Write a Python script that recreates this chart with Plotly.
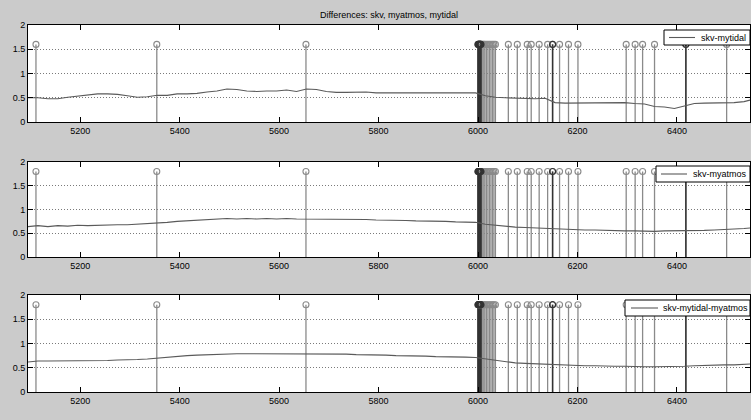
import plotly.graph_objects as go

# ---------------- data ----------------
x_start = 5095
x_step = 20

skv_mytidal = [0.50, 0.50, 0.48, 0.48, 0.51, 0.53, 0.55, 0.58, 0.58, 0.57,
               0.54, 0.51, 0.52, 0.55, 0.55, 0.58, 0.58, 0.59, 0.62, 0.64,
               0.68, 0.67, 0.64, 0.63, 0.64, 0.64, 0.66, 0.63, 0.68, 0.67,
               0.63, 0.61, 0.61, 0.62, 0.62, 0.60, 0.60, 0.61, 0.60, 0.60,
               0.61, 0.60, 0.60, 0.61, 0.60, 0.60, 0.54, 0.51, 0.50, 0.49,
               0.49, 0.48, 0.49, 0.40, 0.39, 0.39, 0.40, 0.39, 0.39, 0.40,
               0.40, 0.38, 0.37, 0.32, 0.31, 0.28, 0.33, 0.38, 0.39, 0.39,
               0.40, 0.40, 0.42, 0.47]

skv_myatmos = [0.64, 0.66, 0.64, 0.66, 0.65, 0.67, 0.66, 0.67, 0.67, 0.68,
               0.68, 0.69, 0.70, 0.72, 0.73, 0.75, 0.76, 0.77, 0.79, 0.80,
               0.81, 0.80, 0.81, 0.80, 0.81, 0.80, 0.81, 0.80, 0.80, 0.80,
               0.79, 0.80, 0.79, 0.79, 0.79, 0.78, 0.78, 0.77, 0.77, 0.76,
               0.76, 0.75, 0.75, 0.74, 0.74, 0.73, 0.69, 0.67, 0.64, 0.63,
               0.62, 0.61, 0.60, 0.59, 0.58, 0.58, 0.57, 0.57, 0.56, 0.56,
               0.55, 0.55, 0.54, 0.54, 0.55, 0.55, 0.55, 0.56, 0.56, 0.57,
               0.58, 0.58, 0.60, 0.62]

skv_mytidal_myatmos = [0.62, 0.64, 0.64, 0.64, 0.64, 0.65, 0.65, 0.65, 0.65, 0.66,
                       0.66, 0.67, 0.68, 0.70, 0.72, 0.74, 0.75, 0.76, 0.77, 0.78,
                       0.78, 0.79, 0.79, 0.79, 0.79, 0.79, 0.79, 0.79, 0.79, 0.79,
                       0.78, 0.78, 0.78, 0.77, 0.77, 0.76, 0.76, 0.75, 0.75, 0.74,
                       0.74, 0.73, 0.73, 0.72, 0.72, 0.71, 0.68, 0.65, 0.62, 0.60,
                       0.59, 0.58, 0.57, 0.56, 0.55, 0.55, 0.54, 0.54, 0.53, 0.53,
                       0.53, 0.52, 0.52, 0.52, 0.52, 0.53, 0.53, 0.54, 0.55, 0.55,
                       0.56, 0.56, 0.57, 0.58]

stem_x = [5111, 5354, 5654,
          6000, 6001, 6002, 6003, 6004, 6005, 6006, 6008, 6010, 6012, 6014,
          6017, 6020, 6023, 6026, 6029, 6032, 6035,
          6061, 6079, 6099, 6107, 6123, 6140, 6150, 6164, 6182, 6201,
          6298, 6316, 6331, 6355, 6418, 6500]
stem_dark_x = [6000, 6001, 6002, 6003, 6004, 6005, 6006, 6150, 6418]
stem_heights = [1.6, 1.8, 1.8]

series = [skv_mytidal, skv_myatmos, skv_mytidal_myatmos]
names = ["skv-mytidal", "skv-myatmos", "skv-mytidal-myatmos"]

x_ticks = [5200, 5400, 5600, 5800, 6000, 6200, 6400]
y_ticks = [0, 0.5, 1, 1.5, 2]
y_ticktext = ["0", "0.5", "1", "1.5", "2"]
title_text = "Differences: skv, myatmos, mytidal"

# ---------------- layout geometry ----------------
W, H = 751, 420
m_l, m_r, m_t, m_b = 28, 1, 25, 28
pw = W - m_l - m_r
ph = H - m_t - m_b
panels_px = [(25, 122), (162, 257), (295, 392)]
domains = [[(H - m_b - b) / ph, (H - m_b - t) / ph] for (t, b) in panels_px]
# legend boxes in pixels: (left, top, right, bottom, line_x0, line_x1, text_x)
legend_px = [(664, 30, 750, 45, 669, 695, 699),
             (656, 166, 750, 182, 661, 687, 691),
             (625, 300, 750, 316, 631, 658, 661)]


def px_x(p):
    return (p - m_l) / pw


def px_y(p):
    return (H - m_b - p) / ph


FONT = "Liberation Sans, Arial, Helvetica, sans-serif"
BG = "#cbcbcb"
STEM = "#8a8a8a"
LINE = "#5a5a5a"

fig = go.Figure()
shapes, annotations = [], []

for i in range(3):
    xa = "x" if i == 0 else f"x{i+1}"
    ya = "y" if i == 0 else f"y{i+1}"
    h = stem_heights[i]

    vals = series[i]
    xs = list(range(x_start, x_start + x_step * len(vals), x_step))

    sx, sy = [], []
    for xv in stem_x:
        sx += [xv, xv, None]
        sy += [0, h, None]
    fig.add_trace(go.Scatter(x=sx, y=sy, mode="lines", xaxis=xa, yaxis=ya,
                             line=dict(color=STEM, width=1.3),
                             showlegend=False, hoverinfo="skip"))
    dx, dy = [], []
    for xv in stem_dark_x:
        dx += [xv, xv, None]
        dy += [0, h, None]
    fig.add_trace(go.Scatter(x=dx, y=dy, mode="lines", xaxis=xa, yaxis=ya,
                             line=dict(color="#333333", width=1.5),
                             showlegend=False, hoverinfo="skip"))
    fig.add_trace(go.Scatter(x=stem_x, y=[h] * len(stem_x), mode="markers",
                             xaxis=xa, yaxis=ya,
                             marker=dict(symbol="circle-open", size=6,
                                         color=STEM, line=dict(width=1.1, color=STEM)),
                             showlegend=False, hoverinfo="skip"))
    fig.add_trace(go.Scatter(x=stem_dark_x, y=[h] * len(stem_dark_x), mode="markers",
                             xaxis=xa, yaxis=ya,
                             marker=dict(symbol="circle-open", size=6,
                                         color="#333333", line=dict(width=1.2, color="#333333")),
                             showlegend=False, hoverinfo="skip"))
    fig.add_trace(go.Scatter(x=xs, y=vals, mode="lines", xaxis=xa, yaxis=ya,
                             name=names[i], showlegend=False,
                             line=dict(color=LINE, width=1.1)))

    axis_common = dict(showline=True, linecolor="black", linewidth=1,
                       mirror="ticks", ticks="inside", ticklen=5,
                       tickcolor="black", zeroline=False,
                       tickfont=dict(family=FONT, size=9, color="black"))
    fig.update_layout(**{
        ("xaxis" if i == 0 else f"xaxis{i+1}"): dict(
            domain=[0, 1], anchor=ya, range=[5095, 6547],
            tickvals=x_ticks, showgrid=False, **axis_common),
        ("yaxis" if i == 0 else f"yaxis{i+1}"): dict(
            domain=domains[i], anchor=xa, range=[0, 2],
            tickvals=y_ticks, ticktext=y_ticktext, showgrid=True,
            gridcolor="#7a7a7a", griddash="1px,2px", gridwidth=1, **axis_common),
    })

    # legend box (drawn as shapes + text, MATLAB style)
    l, t, r, b, lx0, lx1, tx = legend_px[i]
    shapes.append(dict(type="rect", xref="paper", yref="paper",
                       x0=px_x(l), x1=px_x(r), y0=px_y(b), y1=px_y(t),
                       fillcolor="white", line=dict(color="black", width=1),
                       layer="above"))
    ym = px_y((t + b) / 2)
    shapes.append(dict(type="line", xref="paper", yref="paper",
                       x0=px_x(lx0), x1=px_x(lx1), y0=ym, y1=ym,
                       line=dict(color=LINE, width=1.1), layer="above"))
    annotations.append(dict(text=names[i], xref="paper", yref="paper",
                            x=px_x(tx), y=ym, xanchor="left", yanchor="middle",
                            showarrow=False,
                            font=dict(family=FONT, size=9, color="black")))

fig.update_layout(
    width=W, height=H,
    margin=dict(l=m_l, r=m_r, t=m_t, b=m_b),
    paper_bgcolor=BG, plot_bgcolor="white",
    title=dict(text=title_text, x=0.5, xref="paper", xanchor="center",
               y=1 - 15 / H, yanchor="middle", yref="container",
               font=dict(family=FONT, size=9, color="black")),
    font=dict(family=FONT, size=9, color="black"),
    showlegend=False,
    shapes=shapes, annotations=annotations,
)

fig.write_html("out.html",
               config={"displayModeBar": False},
               post_script="document.body.style.margin='0';"
                           "document.body.style.padding='0';"
                           "document.body.style.overflow='hidden';")
